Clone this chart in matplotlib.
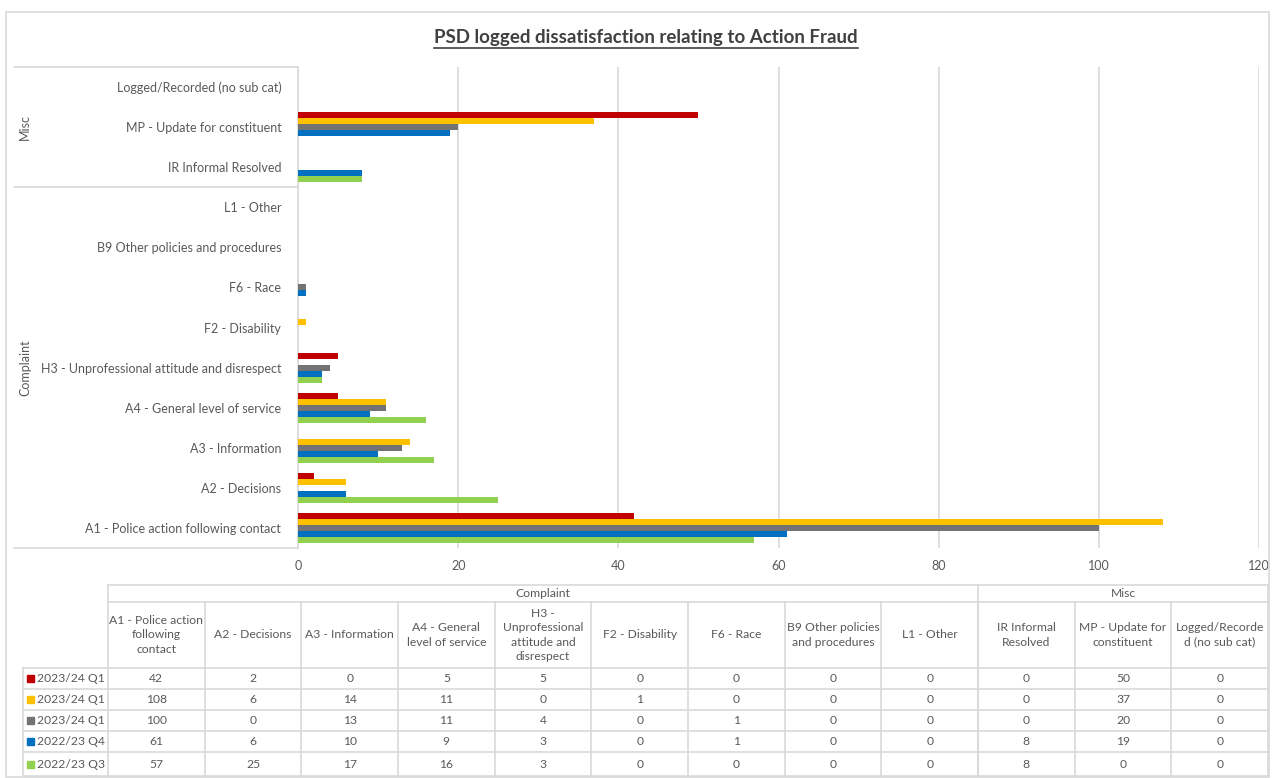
import matplotlib
matplotlib.use("Agg")
import matplotlib.pyplot as plt
import numpy as np
from matplotlib.lines import Line2D
from matplotlib.patches import Rectangle
from matplotlib.transforms import blended_transform_factory

plt.rcParams['font.family'] = ['Lato', 'DejaVu Sans']

# categories, bottom to top as drawn on the chart
categories = ['A1 - Police action following contact', 'A2 - Decisions', 'A3 - Information',
              'A4 - General level of service', 'H3 - Unprofessional attitude and disrespect',
              'F2 - Disability', 'F6 - Race', 'B9 Other policies and procedures', 'L1 - Other',
              'IR Informal Resolved', 'MP - Update for constituent', 'Logged/Recorded (no sub cat)']
# wrapped headers as shown in the data table
table_headers = ['A1 - Police action\nfollowing\ncontact', 'A2 - Decisions', 'A3 - Information',
                 'A4 - General\nlevel of service', 'H3 -\nUnprofessional\nattitude and\ndisrespect',
                 'F2 - Disability', 'F6 - Race', 'B9 Other policies\nand procedures', 'L1 - Other',
                 'IR Informal\nResolved', 'MP - Update for\nconstituent', 'Logged/Recorde\nd (no sub cat)']
groups = ['Complaint', 'Misc']
group_sizes = [9, 3]

series_names = ['2023/24 Q1', '2023/24 Q1', '2023/24 Q1', '2022/23 Q4', '2022/23 Q3']
series_colors = ['#C00000', '#FFC000', '#737373', '#0070C0', '#92D050']

s_red = [42, 2, 0, 5, 5, 0, 0, 0, 0, 0, 50, 0]
s_orange = [108, 6, 14, 11, 0, 1, 0, 0, 0, 0, 37, 0]
s_gray = [100, 0, 13, 11, 4, 0, 1, 0, 0, 0, 20, 0]
s_blue = [61, 6, 10, 9, 3, 0, 1, 0, 0, 8, 19, 0]
s_green = [57, 25, 17, 16, 3, 0, 0, 0, 0, 8, 0, 0]
series = [s_red, s_orange, s_gray, s_blue, s_green]

W, H = 1275, 778
fig = plt.figure(figsize=(W / 100, H / 100), dpi=100)

def fx(x):
    return x / W

def fy(y):
    return 1 - y / H

txt = '#595959'
grid = '#D9D9D9'
tfs = 8.7  # table font size

# chart area
ax = fig.add_axes([fx(298), fy(548), fx(1259) - fx(298), fy(67) - fy(548)])
y = np.arange(len(categories))
bh = 0.15
for i, (vals, c) in enumerate(zip(series, series_colors)):
    ax.barh(y + (2 - i) * bh, vals, height=bh, color=c, zorder=3)

ax.set_xlim(0, 120)
ax.set_ylim(-0.5, len(categories) - 0.5)
ax.set_xticks(np.arange(0, 121, 20))
ax.set_yticks(y)
ax.set_yticklabels(categories)
ax.tick_params(axis='both', length=0, colors=txt, labelsize=9)
ax.tick_params(axis='y', pad=12)
ax.tick_params(axis='x', pad=9)
ax.xaxis.grid(True, color=grid, linewidth=1.2, zorder=0)
for s in ['top', 'right', 'bottom']:
    ax.spines[s].set_visible(False)
ax.spines['left'].set_color(grid)
ax.spines['left'].set_linewidth(1.2)

# multi-level category box on the left
tr = blended_transform_factory(fig.transFigure, ax.transData)
bounds = np.cumsum([0] + group_sizes) - 0.5
for b in bounds:
    fig.add_artist(Line2D([fx(14), fx(298)], [b, b], transform=tr, color=grid, lw=1.2))
for g, lo, hi in zip(groups, bounds[:-1], bounds[1:]):
    fig.text(fx(25), (lo + hi) / 2, g, transform=tr, rotation=90, ha='center', va='center',
             color=txt, fontsize=9)

# title, underlined across its own width
title = fig.text(fx(646), fy(38), 'PSD logged dissatisfaction relating to Action Fraud', ha='center',
                 va='center', fontsize=13.5, fontweight='bold', color='#404040')
fig.canvas.draw()
bb = title.get_window_extent().transformed(fig.transFigure.inverted())
fig.add_artist(Line2D([bb.x0, bb.x1], [fy(48), fy(48)], color='#404040', lw=1.2))

# data table under the chart
col_l, col_r = 108, 1268
ncol = len(categories)
cw = (col_r - col_l) / ncol
col_x = [col_l + k * cw for k in range(ncol + 1)]
row_y = [668, 689, 710, 731, 752, 776]
hdr_top, hdr_mid = 585, 602

def hline(x0, x1, yy):
    fig.add_artist(Line2D([fx(x0), fx(x1)], [fy(yy), fy(yy)], color=grid, lw=1.2))

def vline(xx, y0, y1):
    fig.add_artist(Line2D([fx(xx), fx(xx)], [fy(y0), fy(y1)], color=grid, lw=1.2))

hline(col_l, col_r, hdr_top)
hline(col_l, col_r, hdr_mid)
for ry in row_y:
    hline(23, col_r, ry)
vline(23, row_y[0], row_y[-1])
vline(col_l, hdr_top, row_y[-1])
vline(col_r, hdr_top, row_y[-1])
split = col_x[group_sizes[0]]
vline(split, hdr_top, row_y[-1])
for k in range(1, ncol):
    vline(col_x[k], hdr_mid, row_y[-1])

gx = [(col_l + split) / 2, (split + col_r) / 2]
for g, xx in zip(groups, gx):
    fig.text(fx(xx), fy((hdr_top + hdr_mid) / 2), g, ha='center', va='center', color=txt, fontsize=tfs)

# table headers are in the order of the table columns (A1 first)
for k, h in enumerate(table_headers):
    fig.text(fx((col_x[k] + col_x[k + 1]) / 2), fy((hdr_mid + row_y[0]) / 2), h, ha='center', va='center',
             color=txt, fontsize=tfs, linespacing=1.35)

for r, (name, c, vals) in enumerate(zip(series_names, series_colors, series)):
    yc = (row_y[r] + row_y[r + 1]) / 2
    fig.add_artist(Rectangle((fx(27), fy(yc + 3.5)), fx(7), fy(0) - fy(7), color=c))
    fig.text(fx(37), fy(yc), name, ha='left', va='center', color=txt, fontsize=tfs)
    for k, v in enumerate(vals):
        fig.text(fx((col_x[k] + col_x[k + 1]) / 2), fy(yc), str(v), ha='center', va='center',
                 color=txt, fontsize=tfs)

# outer chart border
fig.add_artist(Rectangle((fx(6), fy(777)), fx(1269) - fx(6), fy(12) - fy(777), fill=False,
                         edgecolor=grid, lw=1.2))

fig.savefig('out.png', dpi=100)
